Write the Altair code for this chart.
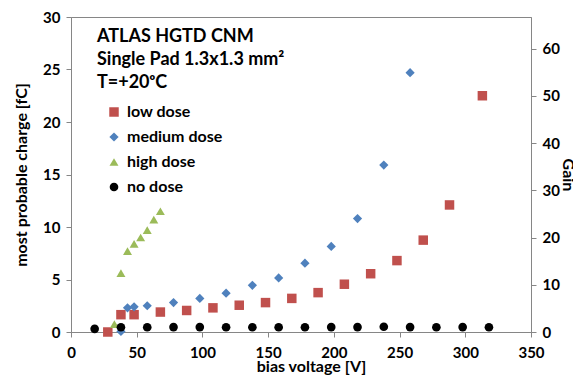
import altair as alt
import pandas as pd

# ---- data ----
low_v = [28, 38, 48, 68, 88, 108, 128, 148, 168, 188, 208, 228, 248, 268, 288, 313]
low_q = [0.0, 1.65, 1.65, 1.9, 2.05, 2.3, 2.55, 2.8, 3.2, 3.75, 4.55, 5.55, 6.8, 8.75, 12.1, 22.5]

med_v = [38, 43, 48, 58, 78, 98, 118, 138, 158, 178, 198, 218, 238, 258]
med_q = [0.05, 2.3, 2.4, 2.5, 2.8, 3.2, 3.7, 4.45, 5.15, 6.55, 8.15, 10.8, 15.9, 24.7]

high_v = [33, 38, 43, 48, 53, 58, 63, 68]
high_q = [0.75, 5.6, 7.7, 8.4, 9.0, 9.7, 10.7, 11.5]

none_v = [18, 38, 58, 78, 98, 118, 138, 158, 178, 198, 218, 238, 258, 278, 298, 318]
none_q = [0.3, 0.45, 0.45, 0.47, 0.47, 0.45, 0.45, 0.45, 0.45, 0.47, 0.47, 0.5, 0.47, 0.45, 0.47, 0.45]

series = ["low dose", "medium dose", "high dose", "no dose"]
colors = ["#C0504D", "#4F81BD", "#9BBB59", "#000000"]
shapes = ["square", "diamond", "triangle-up", "circle"]
sizes = [90, 75, 95, 55]

gain_ticks = [0, 10, 20, 30, 40, 50, 60]
annot = ["ATLAS HGTD CNM", "Single Pad 1.3x1.3 mm\u00b2", "T=+20\u1d52C"]

rows = []
for name, vs, qs in zip(series, [low_v, med_v, high_v, none_v], [low_q, med_q, high_q, none_q]):
    for v, q in zip(vs, qs):
        rows.append({"series": name, "voltage": v, "charge": q})
df = pd.DataFrame(rows)

FONT = "Lato"
AX = "#868686"

points = alt.Chart(df).mark_point(filled=True, opacity=1).encode(
    x=alt.X("voltage:Q",
            scale=alt.Scale(domain=[0, 350], nice=False),
            axis=alt.Axis(values=list(range(0, 351, 50)), title="bias voltage [V]",
                          titleX=240, titlePadding=-2, labelPadding=8)),
    y=alt.Y("charge:Q",
            scale=alt.Scale(domain=[0, 30], nice=False),
            axis=alt.Axis(values=list(range(0, 31, 5)), title="most probable charge [fC]",
                          titlePadding=13)),
    color=alt.Color("series:N", scale=alt.Scale(domain=series, range=colors),
                    legend=alt.Legend(title=None, orient="none", legendX=35, legendY=87,
                                      labelFont=FONT, labelFontWeight="bold", labelFontSize=16,
                                      labelColor="#000", symbolSize=70, rowPadding=9,
                                      symbolOpacity=1, labelOffset=5)),
    shape=alt.Shape("series:N", scale=alt.Scale(domain=series, range=shapes), legend=None),
    size=alt.Size("series:N", scale=alt.Scale(domain=series, range=sizes), legend=None),
)

ann_df = pd.DataFrame({"line": annot, "i": [0, 1, 2]})
texts = alt.Chart(ann_df).mark_text(align="left", baseline="middle", font=FONT,
                                    fontWeight="bold", fontSize=18, color="#000").encode(
    text="line:N",
    x=alt.value(26),
    y=alt.Y("i:Q", axis=None, scale=alt.Scale(domain=[0, 2], range=[20, 66])),
)

gain_df = pd.DataFrame({"gain": gain_ticks})
gain = alt.Chart(gain_df).mark_point(opacity=0).encode(
    x=alt.value(0),
    y=alt.Y("gain:Q", scale=alt.Scale(domain=[0, 30 / 0.45], nice=False),
            axis=alt.Axis(values=gain_ticks, title="Gain", orient="right", titlePadding=0)),
)

chart = alt.layer(points, texts, gain).resolve_scale(
    y="independent"
).properties(
    width=460, height=315,
    autosize=alt.AutoSizeParams(type="none"),
    padding={"left": 63, "top": 9, "right": 42, "bottom": 44},
).configure_view(
    stroke=AX, strokeWidth=1
).configure_axis(
    grid=False, domainColor=AX, tickColor=AX, tickSize=5,
    labelFont=FONT, labelFontWeight="bold", labelFontSize=15, labelColor="#000",
    titleFont=FONT, titleFontWeight="bold", titleFontSize=16, titleColor="#000",
    labelPadding=6, labelFlush=False,
)

chart.save("out.html", embed_options={"renderer": "svg", "actions": False})
